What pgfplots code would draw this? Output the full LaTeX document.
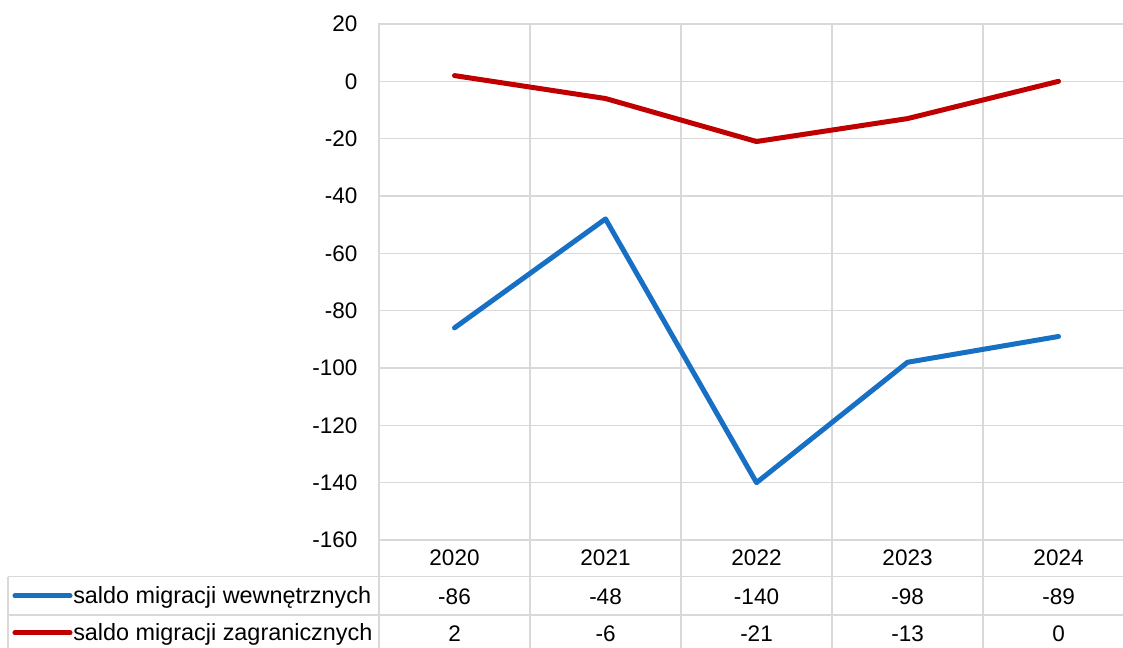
\documentclass[border=0pt]{standalone}
\usepackage{fontspec}
\setmainfont{Liberation Sans}
\usepackage{pgfplots}
\usepackage{pgfplotstable}
\pgfplotsset{compat=1.18}
\definecolor{blueS}{HTML}{1770C4}
\definecolor{redS}{HTML}{C00000}
\definecolor{gridc}{HTML}{D9D9D9}
\pgfplotstableread{
x year w z
0 2020 -86 2
1 2021 -48 -6
2 2022 -140 -21
3 2023 -98 -13
4 2024 -89 0
}\data
\newcommand{\ff}{\fontsize{22.5}{27}\selectfont}
\newcommand{\lf}{\fontsize{23.4}{28}\selectfont}
\begin{document}
\begin{tikzpicture}
\begin{axis}[
 scale only axis, width=755pt, height=627.8pt,
 xmin=-0.5, xmax=4.5, ymin=-199, ymax=20,
 clip=false,
 axis line style={gridc, line width=1.5pt},
 xtick={-0.5,0.5,...,4.5}, xticklabels={},
 ytick={-160,-140,...,20},
 grid=major, grid style={gridc, line width=1.5pt},
 major tick length=0,
 tick label style={font=\ff},
 /pgf/number format/assume math mode=true,
 yticklabel style={anchor=east, xshift=-18pt},
]
\addplot[blueS, line width=5pt, line cap=round, line join=round] table[x=x,y=w]{\data};
\addplot[redS, line width=5pt, line cap=round, line join=round] table[x=x,y=z]{\data};
\addplot[draw=none, mark=none, nodes near coords, point meta=explicit symbolic,
  every node near coord/.append style={anchor=center, font=\ff, text=black}]
  table[x=x, y expr=-166.2, meta=year]{\data};
\addplot[draw=none, mark=none, nodes near coords, point meta=explicit symbolic,
  every node near coord/.append style={anchor=center, font=\ff, text=black}]
  table[x=x, y expr=-179.8, meta=w]{\data};
\addplot[draw=none, mark=none, nodes near coords, point meta=explicit symbolic,
  every node near coord/.append style={anchor=center, font=\ff, text=black}]
  table[x=x, y expr=-192.7, meta=z]{\data};
\draw[gridc, line width=1.5pt] (axis cs:-2.957,-172.8) -- (axis cs:4.5,-172.8);
\draw[gridc, line width=1.5pt] (axis cs:-2.957,-186.1) -- (axis cs:4.5,-186.1);
\draw[gridc, line width=1.5pt] (axis cs:-2.957,-172.8) -- (axis cs:-2.957,-199);
\draw[blueS, line width=5pt, line cap=round] (axis cs:-2.911,-179.5) -- (axis cs:-2.546,-179.5);
\draw[redS, line width=5pt, line cap=round] (axis cs:-2.911,-192.4) -- (axis cs:-2.546,-192.4);
\node[anchor=west, inner sep=0, font=\lf] at (axis cs:-2.526,-179.9) {saldo migracji wewnętrznych};
\node[anchor=west, inner sep=0, font=\lf] at (axis cs:-2.526,-192.8) {saldo migracji zagranicznych};
\coordinate (bl) at (axis cs:-3.010,-197.33);
\coordinate (tr) at (axis cs:4.427,28.37);
\end{axis}
\pgfresetboundingbox
\path[use as bounding box] (bl) rectangle (tr);
\end{tikzpicture}
\end{document}
